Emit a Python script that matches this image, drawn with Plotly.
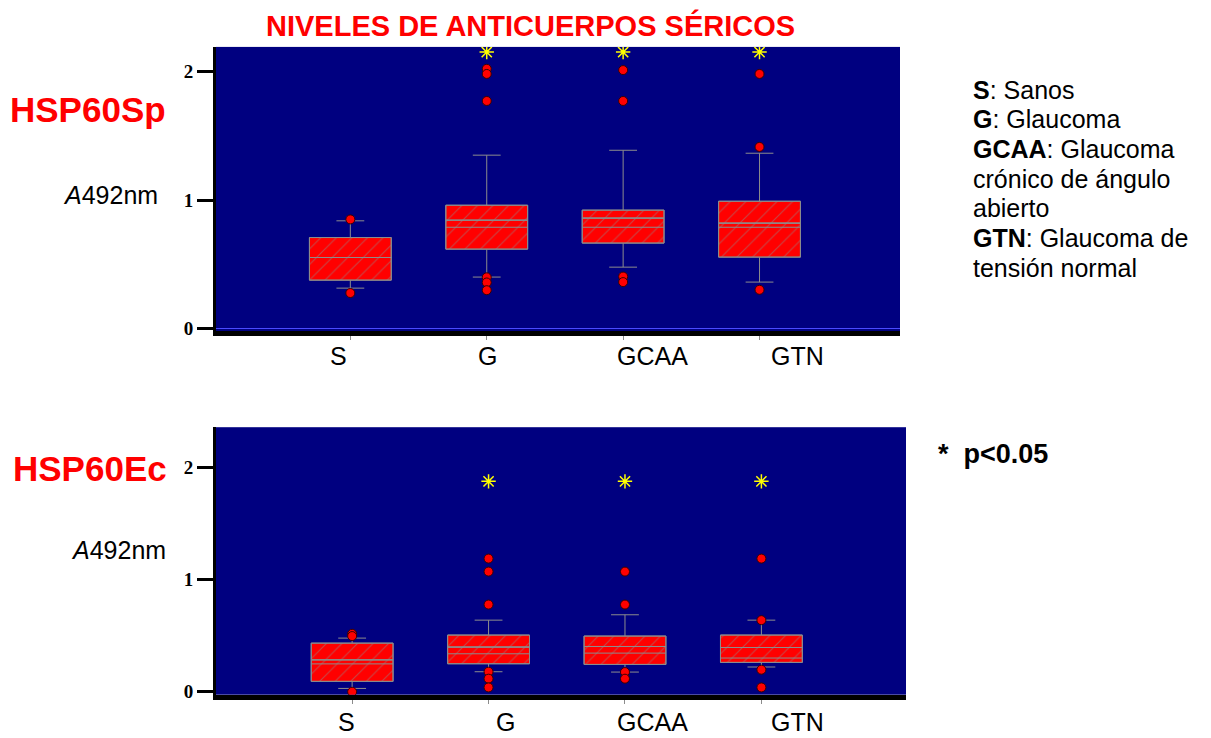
import plotly.graph_objects as go

# ---------------- data ----------------
categories = ["S", "G", "GCAA", "GTN"]

# Panel 1: HSP60Sp
sp_q1 = [0.378, 0.619, 0.666, 0.557]
sp_median = [0.554, 0.789, 0.789, 0.789]
sp_q3 = [0.709, 0.960, 0.922, 0.991]
sp_lowerfence = [0.316, 0.402, 0.479, 0.363]
sp_upperfence = [0.839, 1.349, 1.387, 1.364]
sp_mean = [0.554, 0.844, 0.860, 0.821]
sp_outliers = [[0.85, 0.278],
               [2.02, 1.98, 1.77, 0.40, 0.36, 0.30],
               [2.01, 1.77, 0.406, 0.363],
               [1.98, 1.413, 0.303]]
sp_signif_cats = ["G", "GCAA", "GTN"]
sp_signif_y = [2.15, 2.15, 2.15]

# Panel 2: HSP60Ec
ec_q1 = [0.093, 0.250, 0.244, 0.262]
ec_median = [0.249, 0.339, 0.345, 0.301]
ec_q3 = [0.434, 0.506, 0.497, 0.506]
ec_lowerfence = [0.03, 0.179, 0.176, 0.221]
ec_upperfence = [0.479, 0.639, 0.687, 0.639]
ec_mean = [0.285, 0.399, 0.404, 0.395]
ec_outliers = [[0.517, 0.497, 0.0],
               [1.188, 1.072, 0.778, 0.179, 0.117, 0.039],
               [1.072, 0.778, 0.176, 0.117],
               [1.188, 0.639, 0.197, 0.039]]
ec_signif_cats = ["G", "GCAA", "GTN"]
ec_signif_y = [1.877, 1.877, 1.877]

legend_lines = ["<b>S</b>: Sanos", "<b>G</b>: Glaucoma", "<b>GCAA</b>: Glaucoma",
                "crónico de ángulo", "abierto", "<b>GTN</b>: Glaucoma de",
                "tensión normal"]

# ---------------- styling ----------------
W, H = 1211, 738
KY = 0.991  # vertical compensation factor observed in rendering
NAVY = "#000080"
RED = "#FF0000"
GRAY = "#8c8c8c"
YELLOW = "#FFFF00"
BOXW = 0.6
SANS = "Liberation Sans, Arial, sans-serif"
SERIF = "Liberation Serif, Times New Roman, serif"

fig = go.Figure()


def add_panel(xa, ya, q1, med, q3, lf, uf, mean, outl, sig_c, sig_y):
    fig.add_trace(go.Bar(
        x=categories, y=[b - a for a, b in zip(q1, q3)], base=q1, width=BOXW,
        marker=dict(color=RED, line=dict(color=GRAY, width=1),
                    pattern=dict(shape="/", fgcolor=GRAY, size=11, solidity=0.1)),
        xaxis=xa, yaxis=ya, showlegend=False, hoverinfo="skip"))
    fig.add_trace(go.Box(
        x=categories, q1=q1, median=med, q3=q3, lowerfence=lf, upperfence=uf,
        width=BOXW, whiskerwidth=0.34, boxpoints=False,
        fillcolor="rgba(0,0,0,0)", line=dict(color=GRAY, width=1),
        xaxis=xa, yaxis=ya, showlegend=False))
    fig.add_trace(go.Box(
        x=categories, q1=mean, median=mean, q3=mean, lowerfence=mean, upperfence=mean,
        width=BOXW, whiskerwidth=0, boxpoints=False,
        fillcolor="rgba(0,0,0,0)", line=dict(color=GRAY, width=1),
        xaxis=xa, yaxis=ya, showlegend=False))
    ox, oy = [], []
    for c, vals in zip(categories, outl):
        for v in vals:
            ox.append(c)
            oy.append(v)
    fig.add_trace(go.Scatter(
        x=ox, y=oy, mode="markers",
        marker=dict(color=RED, size=9, line=dict(color="#3a0000", width=1)),
        xaxis=xa, yaxis=ya, showlegend=False))
    fig.add_trace(go.Scatter(
        x=sig_c, y=sig_y, mode="markers",
        marker=dict(symbol="asterisk-open", size=12, color=YELLOW,
                    line=dict(color=YELLOW, width=1.5)),
        xaxis=xa, yaxis=ya, showlegend=False))


add_panel("x", "y", sp_q1, sp_median, sp_q3, sp_lowerfence, sp_upperfence,
          sp_mean, sp_outliers, sp_signif_cats, sp_signif_y)
add_panel("x2", "y2", ec_q1, ec_median, ec_q3, ec_lowerfence, ec_upperfence,
          ec_mean, ec_outliers, ec_signif_cats, ec_signif_y)


def px_x(p):
    return p / W


def px_y(p):
    return 1 - (p / KY) / H


xaxis_common = dict(type="category", categoryorder="array", categoryarray=categories,
                    showgrid=False, zeroline=False, showticklabels=False,
                    ticks="outside", ticklen=4, tickcolor=GRAY, tickwidth=1,
                    showline=True, linecolor="black", linewidth=5, fixedrange=True)
yaxis_common = dict(showgrid=False, tickvals=[0, 1, 2], ticktext=["0", "1", "2"],
                    ticks="outside", ticklen=16, tickwidth=3, tickcolor="black",
                    showline=True, linecolor="black", linewidth=3,
                    tickfont=dict(family=SERIF, size=19, color="black", weight="bold"),
                    fixedrange=True)

fig.update_layout(
    width=W, height=H,
    margin=dict(l=0, r=0, t=0, b=0),
    paper_bgcolor="white",
    plot_bgcolor=NAVY,
    barmode="overlay", boxmode="overlay",
    xaxis=dict(xaxis_common, domain=[px_x(216), px_x(900)], range=[-0.985, 4.03],
               anchor="y"),
    yaxis=dict(yaxis_common, domain=[px_y(332), px_y(47)], range=[-0.02, 2.19],
               anchor="x", zeroline=True, zerolinecolor="#4a4aff", zerolinewidth=1),
    xaxis2=dict(xaxis_common, domain=[px_x(216), px_x(906)], range=[-0.998, 4.06],
                anchor="y2"),
    yaxis2=dict(yaxis_common, domain=[px_y(696), px_y(428)], range=[-0.026, 2.36],
                anchor="x2", zeroline=False),
)

ann = []
ann.append(dict(text="<b>NIVELES DE ANTICUERPOS SÉRICOS</b>", x=px_x(530), y=px_y(26),
                font=dict(family=SANS, size=29, color=RED)))
ann.append(dict(text="<b>HSP60Sp</b>", x=px_x(88), y=px_y(110),
                font=dict(family=SANS, size=35, color=RED)))
ann.append(dict(text="<b>HSP60Ec</b>", x=px_x(90), y=px_y(469),
                font=dict(family=SANS, size=35, color=RED)))
ann.append(dict(text="<i>A</i>492nm", x=px_x(110), y=px_y(195),
                font=dict(family=SANS, size=25, color="black")))
ann.append(dict(text="<i>A</i>492nm", x=px_x(118), y=px_y(551),
                font=dict(family=SANS, size=25, color="black")))
ann.append(dict(text="<b>*  p<0.05</b>", x=px_x(936), y=px_y(455), xanchor="left",
                font=dict(family=SANS, size=27, color="black")))
for i, line in enumerate(legend_lines):
    ann.append(dict(text=line, x=px_x(971), y=px_y(90 + i * 29.7), xanchor="left",
                    font=dict(family=SANS, size=25, color="black")))
top_label_px = [338, 487, 652, 797]
bot_label_px = [346, 505, 653, 797]
for c, p in zip(categories, top_label_px):
    ann.append(dict(text=c, x=px_x(p), y=px_y(357),
                    font=dict(family=SANS, size=25, color="black")))
for c, p in zip(categories, bot_label_px):
    ann.append(dict(text=c, x=px_x(p), y=px_y(723),
                    font=dict(family=SANS, size=25, color="black")))
for a in ann:
    a.update(xref="paper", yref="paper", showarrow=False)
    a.setdefault("xanchor", "center")
    a.setdefault("yanchor", "middle")
fig.update_layout(annotations=ann)

css_fix = (
    "document.documentElement.style.margin='0';"
    "document.documentElement.style.padding='0';"
    "document.documentElement.style.overflow='hidden';"
    "document.body.style.margin='0';"
    "document.body.style.padding='0';"
    "document.body.style.overflow='hidden';"
)

fig.write_html("out.html", config={"displayModeBar": False}, post_script=css_fix)
